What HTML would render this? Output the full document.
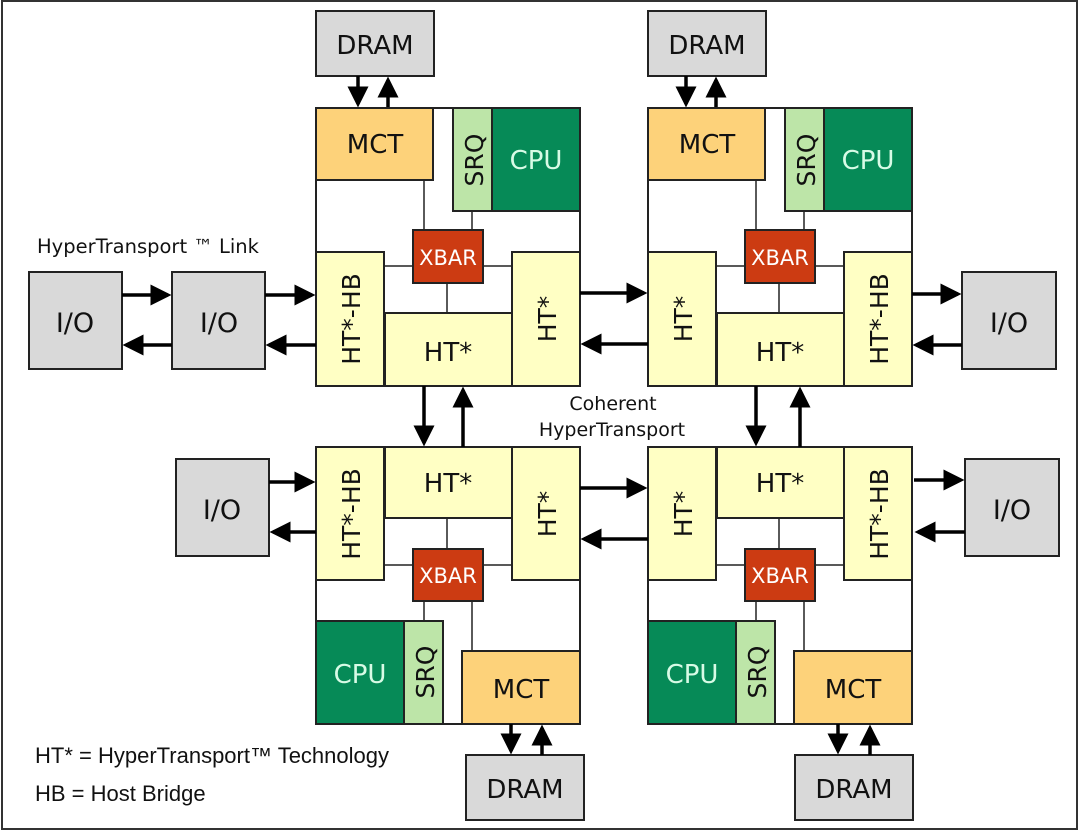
<!DOCTYPE html>
<html><head><meta charset="utf-8"><style>
html,body{margin:0;padding:0;background:#fff}
svg{display:block}
text{font-family:"DejaVu Sans","Liberation Sans",sans-serif;fill:#111}
.b{stroke:#222;stroke-width:2}
.g{fill:#d9d9d9}.m{fill:#fdd27a}.s{fill:#bde5a8}.c{fill:#068a57}.x{fill:#cc3b12}.h{fill:#ffffc4}
.l{stroke:#222;stroke-width:1.5}
.a{stroke:#000;stroke-width:3.5;fill:none}
</style></head><body>
<svg width="1080" height="832" viewBox="0 0 1080 832">
<defs>
<marker id="ar" markerWidth="6" markerHeight="6" refX="5" refY="3" orient="auto" markerUnits="strokeWidth"><path d="M0,0 L6,3 L0,6 z" fill="#000"/></marker>
</defs>
<rect x="2" y="1" width="1075" height="828" fill="none" stroke="#333" stroke-width="2"/>

<!-- Top-left node -->
<rect class="b" x="316" y="108" width="264" height="278" fill="#fff"/>
<line class="l" x1="424" y1="180" x2="424" y2="230"/><line class="l" x1="472" y1="211" x2="472" y2="230"/>
<line class="l" x1="384" y1="266" x2="413" y2="266"/><line class="l" x1="483" y1="266" x2="512" y2="266"/>
<line class="l" x1="447" y1="283" x2="447" y2="313"/>
<rect class="b m" x="316" y="108" width="117" height="72"/>
<rect class="b s" x="453" y="108" width="39" height="103"/>
<rect class="b c" x="492" y="108" width="88" height="103"/>
<rect class="b x" x="413" y="230" width="70" height="53"/>
<rect class="b h" x="316" y="252" width="68" height="134"/>
<rect class="b h" x="512" y="252" width="68" height="134"/>
<rect class="b h" x="385" y="313" width="127" height="73"/>
<text x="375" y="153" font-size="26" text-anchor="middle">MCT</text>
<text x="536" y="169" font-size="26" text-anchor="middle" style="fill:#d8fbe6">CPU</text>
<text transform="translate(483,160) rotate(-90)" font-size="25" text-anchor="middle">SRQ</text>
<text x="448" y="265" font-size="21" text-anchor="middle" style="fill:#fff">XBAR</text>
<text transform="translate(360,319) rotate(-90)" font-size="25" text-anchor="middle">HT*-HB</text>
<text transform="translate(556,319) rotate(-90)" font-size="25" text-anchor="middle">HT*</text>
<text x="448" y="361" font-size="26" text-anchor="middle">HT*</text>

<!-- Top-right node -->
<rect class="b" x="648" y="108" width="264" height="278" fill="#fff"/>
<line class="l" x1="756" y1="180" x2="756" y2="230"/><line class="l" x1="804" y1="211" x2="804" y2="230"/>
<line class="l" x1="716" y1="266" x2="745" y2="266"/><line class="l" x1="815" y1="266" x2="844" y2="266"/>
<line class="l" x1="779" y1="283" x2="779" y2="313"/>
<rect class="b m" x="648" y="108" width="117" height="72"/>
<rect class="b s" x="785" y="108" width="39" height="103"/>
<rect class="b c" x="824" y="108" width="88" height="103"/>
<rect class="b x" x="745" y="230" width="70" height="53"/>
<rect class="b h" x="648" y="252" width="68" height="134"/>
<rect class="b h" x="844" y="252" width="68" height="134"/>
<rect class="b h" x="717" y="313" width="127" height="73"/>
<text x="707" y="153" font-size="26" text-anchor="middle">MCT</text>
<text x="868" y="169" font-size="26" text-anchor="middle" style="fill:#d8fbe6">CPU</text>
<text transform="translate(815,160) rotate(-90)" font-size="25" text-anchor="middle">SRQ</text>
<text x="780" y="265" font-size="21" text-anchor="middle" style="fill:#fff">XBAR</text>
<text transform="translate(692,319) rotate(-90)" font-size="25" text-anchor="middle">HT*</text>
<text transform="translate(888,319) rotate(-90)" font-size="25" text-anchor="middle">HT*-HB</text>
<text x="780" y="361" font-size="26" text-anchor="middle">HT*</text>

<!-- Bottom-left node -->
<rect class="b" x="316" y="447" width="264" height="277" fill="#fff"/>
<line class="l" x1="447" y1="518" x2="447" y2="549"/>
<line class="l" x1="384" y1="565" x2="413" y2="565"/><line class="l" x1="483" y1="565" x2="512" y2="565"/>
<line class="l" x1="424" y1="601" x2="424" y2="621"/><line class="l" x1="472" y1="601" x2="472" y2="651"/>
<rect class="b h" x="316" y="447" width="68" height="133"/>
<rect class="b h" x="385" y="447" width="127" height="71"/>
<rect class="b h" x="512" y="447" width="68" height="133"/>
<rect class="b x" x="413" y="549" width="70" height="52"/>
<rect class="b c" x="316" y="621" width="88" height="103"/>
<rect class="b s" x="404" y="621" width="39" height="103"/>
<rect class="b m" x="462" y="651" width="118" height="73"/>
<text transform="translate(360,514) rotate(-90)" font-size="25" text-anchor="middle">HT*-HB</text>
<text x="448" y="492" font-size="26" text-anchor="middle">HT*</text>
<text transform="translate(556,514) rotate(-90)" font-size="25" text-anchor="middle">HT*</text>
<text x="448" y="583" font-size="21" text-anchor="middle" style="fill:#fff">XBAR</text>
<text x="360" y="683" font-size="26" text-anchor="middle" style="fill:#d8fbe6">CPU</text>
<text transform="translate(434,672) rotate(-90)" font-size="25" text-anchor="middle">SRQ</text>
<text x="521" y="698" font-size="26" text-anchor="middle">MCT</text>

<!-- Bottom-right node -->
<rect class="b" x="648" y="447" width="264" height="277" fill="#fff"/>
<line class="l" x1="779" y1="518" x2="779" y2="549"/>
<line class="l" x1="716" y1="565" x2="745" y2="565"/><line class="l" x1="815" y1="565" x2="844" y2="565"/>
<line class="l" x1="756" y1="601" x2="756" y2="621"/><line class="l" x1="804" y1="601" x2="804" y2="651"/>
<rect class="b h" x="648" y="447" width="68" height="133"/>
<rect class="b h" x="717" y="447" width="127" height="71"/>
<rect class="b h" x="844" y="447" width="68" height="133"/>
<rect class="b x" x="745" y="549" width="70" height="52"/>
<rect class="b c" x="648" y="621" width="88" height="103"/>
<rect class="b s" x="736" y="621" width="39" height="103"/>
<rect class="b m" x="794" y="651" width="118" height="73"/>
<text transform="translate(692,514) rotate(-90)" font-size="25" text-anchor="middle">HT*</text>
<text x="780" y="492" font-size="26" text-anchor="middle">HT*</text>
<text transform="translate(888,514) rotate(-90)" font-size="25" text-anchor="middle">HT*-HB</text>
<text x="780" y="583" font-size="21" text-anchor="middle" style="fill:#fff">XBAR</text>
<text x="692" y="683" font-size="26" text-anchor="middle" style="fill:#d8fbe6">CPU</text>
<text transform="translate(766,672) rotate(-90)" font-size="25" text-anchor="middle">SRQ</text>
<text x="853" y="698" font-size="26" text-anchor="middle">MCT</text>

<!-- DRAM -->
<rect class="b g" x="316" y="11" width="118" height="65"/><text x="375" y="54" font-size="26" text-anchor="middle">DRAM</text>
<rect class="b g" x="648" y="11" width="118" height="65"/><text x="707" y="54" font-size="26" text-anchor="middle">DRAM</text>
<rect class="b g" x="466" y="755" width="118" height="65"/><text x="525" y="798" font-size="26" text-anchor="middle">DRAM</text>
<rect class="b g" x="795" y="755" width="118" height="65"/><text x="854" y="798" font-size="26" text-anchor="middle">DRAM</text>

<!-- I/O -->
<rect class="b g" x="29" y="272" width="93" height="97"/><text x="75" y="332" font-size="27" text-anchor="middle">I/O</text>
<rect class="b g" x="172" y="272" width="93" height="97"/><text x="219" y="332" font-size="27" text-anchor="middle">I/O</text>
<rect class="b g" x="962" y="272" width="94" height="97"/><text x="1009" y="332" font-size="27" text-anchor="middle">I/O</text>
<rect class="b g" x="176" y="459" width="93" height="97"/><text x="222" y="519" font-size="27" text-anchor="middle">I/O</text>
<rect class="b g" x="965" y="459" width="94" height="97"/><text x="1012" y="519" font-size="27" text-anchor="middle">I/O</text>

<!-- Arrows -->
<g class="a">
<line x1="358" y1="76" x2="358" y2="104" marker-end="url(#ar)"/>
<line x1="388" y1="107" x2="388" y2="80" marker-end="url(#ar)"/>
<line x1="686" y1="76" x2="686" y2="104" marker-end="url(#ar)"/>
<line x1="716" y1="107" x2="716" y2="80" marker-end="url(#ar)"/>
<line x1="511" y1="724" x2="511" y2="751" marker-end="url(#ar)"/>
<line x1="542" y1="755" x2="542" y2="728" marker-end="url(#ar)"/>
<line x1="838" y1="724" x2="838" y2="751" marker-end="url(#ar)"/>
<line x1="870" y1="755" x2="870" y2="728" marker-end="url(#ar)"/>

<line x1="122" y1="295" x2="168" y2="295" marker-end="url(#ar)"/>
<line x1="172" y1="345" x2="126" y2="345" marker-end="url(#ar)"/>
<line x1="265" y1="295" x2="312" y2="295" marker-end="url(#ar)"/>
<line x1="316" y1="345" x2="269" y2="345" marker-end="url(#ar)"/>
<line x1="580" y1="293" x2="644" y2="293" marker-end="url(#ar)"/>
<line x1="648" y1="344" x2="584" y2="344" marker-end="url(#ar)"/>
<line x1="912" y1="294" x2="958" y2="294" marker-end="url(#ar)"/>
<line x1="962" y1="345" x2="916" y2="345" marker-end="url(#ar)"/>

<line x1="269" y1="482" x2="312" y2="482" marker-end="url(#ar)"/>
<line x1="316" y1="532" x2="273" y2="532" marker-end="url(#ar)"/>
<line x1="580" y1="488" x2="644" y2="488" marker-end="url(#ar)"/>
<line x1="648" y1="539" x2="584" y2="539" marker-end="url(#ar)"/>
<line x1="914" y1="480" x2="961" y2="480" marker-end="url(#ar)"/>
<line x1="965" y1="532" x2="918" y2="532" marker-end="url(#ar)"/>

<line x1="424" y1="386" x2="424" y2="443" marker-end="url(#ar)"/>
<line x1="463" y1="447" x2="463" y2="390" marker-end="url(#ar)"/>
<line x1="756" y1="386" x2="756" y2="443" marker-end="url(#ar)"/>
<line x1="800" y1="447" x2="800" y2="390" marker-end="url(#ar)"/>
</g>

<text x="37" y="253" font-size="19.5">HyperTransport ™ Link</text>
<text x="613" y="410" font-size="19" text-anchor="middle">Coherent</text>
<text x="612" y="436" font-size="19" text-anchor="middle">HyperTransport</text>
<text x="35" y="763" font-size="22" style="font-family:'Liberation Sans',sans-serif">HT* = HyperTransport™ Technology</text>
<text x="35" y="801" font-size="22" style="font-family:'Liberation Sans',sans-serif">HB = Host Bridge</text>
</svg>
</body></html>
